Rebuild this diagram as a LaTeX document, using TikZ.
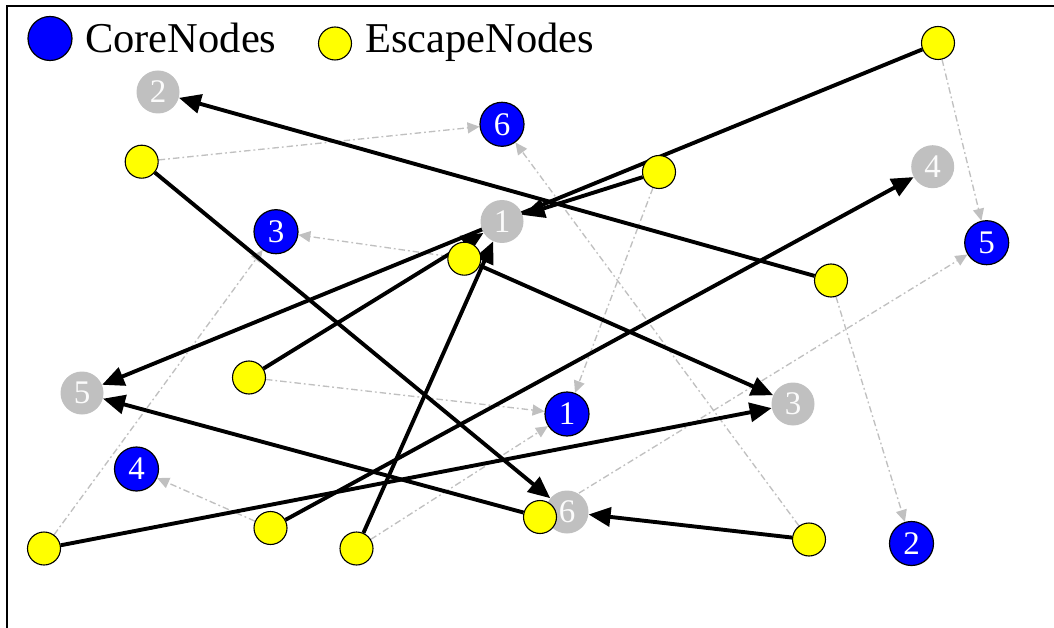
\documentclass[tikz,border=0pt]{standalone}
\usepackage{fontspec}
\setmainfont{Liberation Serif}
\usetikzlibrary{arrows.meta,backgrounds}

\definecolor{coreblue}{RGB}{0,0,255}
\definecolor{escyellow}{RGB}{255,255,0}
\definecolor{ghost}{RGB}{192,192,192}

\tikzset{
  corenode/.style={circle, fill=coreblue, draw=black, line width=1.2pt,
    minimum size=44pt, inner sep=0pt, text=white,
    font=\fontsize{33}{33}\selectfont},
  ghostnode/.style={circle, fill=ghost, minimum size=43pt, inner sep=0pt,
    text=white!94!ghost, font=\fontsize{33}{33}\selectfont},
  escnode/.style={circle, fill=escyellow, draw=black, line width=1.1pt,
    minimum size=33pt, inner sep=0pt},
  legendtext/.style={anchor=base west, inner sep=0pt,
    font=\fontsize{42.5}{50}\selectfont},
  jump/.style={line width=3.9pt, black,
    -{Triangle[length=22pt,width=19pt]}},
  link/.style={line width=1.35pt, ghost,
    dash pattern=on 6.5pt off 3pt on 1.8pt off 3pt,
    -{Triangle[length=12pt,width=11pt]}},
}

\begin{document}
\begin{tikzpicture}[x=1pt,y=-1pt]
\useasboundingbox (0,0) rectangle (1054,628);

% frame (only the left and top sides fall inside the picture)
\draw[line width=1.3pt] (7,628) -- (7,6) -- (1054,6);

% legend
\node[corenode, minimum size=44pt] (legcore) at (50,38.5) {};
\node[legendtext] (legcoretext) at (85,52.5) {CoreNodes};
\node[escnode, minimum size=33pt] (legesc) at (335,43.5) {};
\node[legendtext] (legesctext) at (365,52.5) {EscapeNodes};

% ghost (gray) nodes
\node[ghostnode] (g1) at (502,221.5) {1};
\node[ghostnode] (g2) at (158,92) {2};
\node[ghostnode] (g3) at (793,404) {3};
\node[ghostnode] (g4) at (932.7,166.7) {4};
\node[ghostnode] (g5) at (82,393) {5};
\node[ghostnode] (g6) at (567,512) {6};

% core nodes
\node[corenode] (b1) at (567,414) {1};
\node[corenode] (b2) at (911.5,543.5) {2};
\node[corenode] (b3) at (276,231.7) {3};
\node[corenode] (b4) at (136.5,469) {4};
\node[corenode] (b5) at (986.7,242.7) {5};
\node[corenode] (b6) at (502,124.3) {6};

% escape nodes
\node[escnode] (y1) at (938,43) {};
\node[escnode] (y2) at (141.7,161.7) {};
\node[escnode] (y3) at (659,172) {};
\node[escnode] (y4) at (464.3,258.7) {};
\node[escnode] (y5) at (831,280.5) {};
\node[escnode] (y6) at (249,377.5) {};
\node[escnode] (y7) at (270.5,528) {};
\node[escnode] (y8) at (356.5,548.5) {};
\node[escnode] (y9) at (540,517) {};
\node[escnode] (y10) at (809,539.5) {};
\node[escnode] (y11) at (44,548.5) {};

\begin{pgfonlayer}{background}
  % dash-dotted links to core nodes
  \draw[link] (y1) -- (b5);
  \draw[link] (y2) -- (b6);
  \draw[link] (y3) -- (b1);
  \draw[link] (y4) -- (b3);
  \draw[link] (y5) -- (b2);
  \draw[link] (y6) -- (b1);
  \draw[link] (y7) -- (b4);
  \draw[link] (y8) -- (b1);
  \draw[link] (y9) -- (b5);
  \draw[link] (y10) -- (b6);
  \draw[link] (y11) -- (b3);
  % solid jumps to ghost nodes
  \draw[jump] (y1) -- (g5);
  \draw[jump] (y2) -- (g6);
  \draw[jump] (y3) -- (g1);
  \draw[jump] (y4) -- (g3);
  \draw[jump] (y5) -- (g2);
  \draw[jump] (y6) -- (g1);
  \draw[jump] (y7) -- (g4);
  \draw[jump] (y8) -- (g1);
  \draw[jump] (y9) -- (g5);
  \draw[jump] (y10) -- (g6);
  \draw[jump] (y11) -- (g3);
\end{pgfonlayer}
\end{tikzpicture}
\end{document}
